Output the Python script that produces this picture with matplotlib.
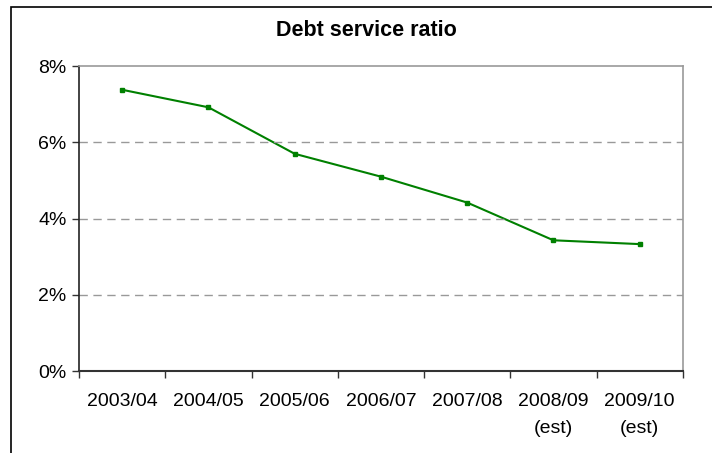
import numpy as np
import matplotlib.pyplot as plt
from matplotlib.patches import Rectangle
from matplotlib.ticker import FixedLocator, FuncFormatter

years = ['2003/04', '2004/05', '2005/06', '2006/07', '2007/08', '2008/09\n(est)', '2009/10\n(est)']
ratio = [7.38, 6.92, 5.70, 5.10, 4.42, 3.43, 3.33]

plt.rcParams['font.family'] = ['Liberation Sans', 'DejaVu Sans']

fig = plt.figure(figsize=(7.12, 4.53), dpi=100)
ax = fig.add_axes([0.111, 0.181, 0.848, 0.673])

# outer chart border (only left/top visible in the crop)
fig.patches.append(Rectangle((11 / 712, -0.1), 1.2, 1 - 7 / 453 + 0.1,
                             transform=fig.transFigure, fill=False,
                             edgecolor='black', linewidth=1.2))

x = np.arange(len(years))
ax.plot(x, ratio, color='#008000', linewidth=1.5, marker='s', markersize=2.2)

ax.set_xlim(-0.5, len(years) - 0.5)
ax.set_ylim(0, 8)
ax.set_yticks([0, 2, 4, 6, 8])
ax.yaxis.set_major_formatter(FuncFormatter(lambda v, p: '%d%%' % v))
ax.xaxis.set_major_locator(FixedLocator(np.arange(-0.5, len(years), 1)))
ax.xaxis.set_minor_locator(FixedLocator(x))
ax.set_xticklabels([])
ax.set_xticklabels(years, minor=True, linespacing=1.75)
ax.tick_params(axis='x', which='minor', length=0, pad=16, labelsize=14)
ax.tick_params(axis='x', which='major', length=5, width=1, color='#333333')
ax.tick_params(axis='y', length=5, width=1, labelsize=14, pad=4, color='#333333')

for v in [2, 4, 6]:
    ax.axhline(v, color='#999999', linestyle=(0, (6, 4)), linewidth=1)

ax.spines['left'].set_color('#222222')
ax.spines['bottom'].set_color('#333333')
ax.spines['left'].set_linewidth(1.2)
ax.spines['bottom'].set_linewidth(1.5)
ax.spines['top'].set_color('#999999')
ax.spines['right'].set_color('#999999')
ax.spines['top'].set_linewidth(1.2)
ax.spines['right'].set_linewidth(1.2)

fig.text(0.514, 1 - 31 / 453, 'Debt service ratio', ha='center', va='center',
         fontsize=15.5, fontweight='bold')

fig.savefig('out.png', dpi=100)
